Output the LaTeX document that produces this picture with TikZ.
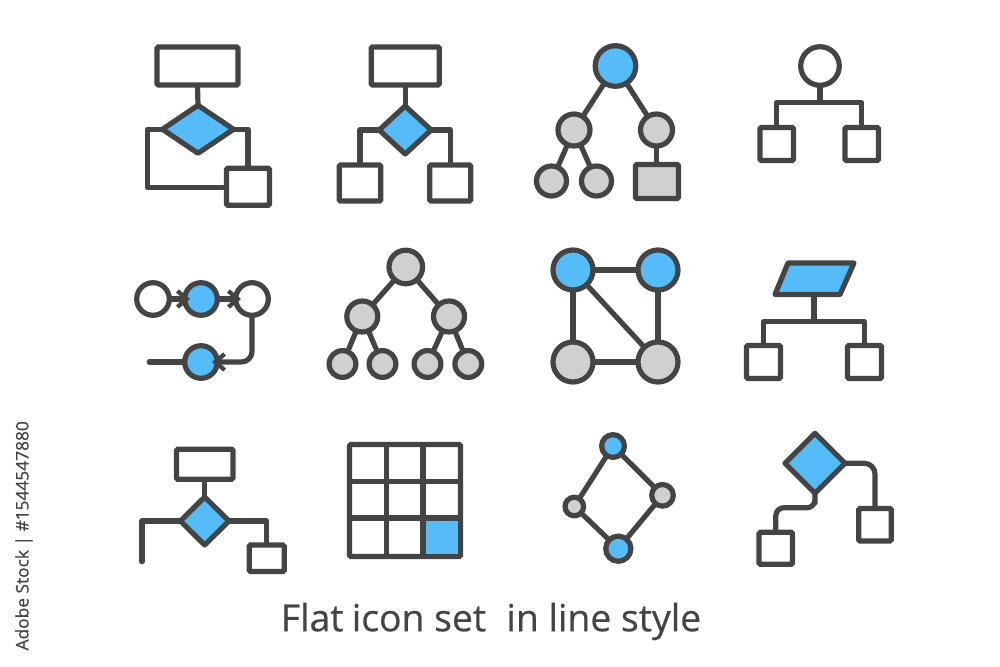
\documentclass[tikz,border=0pt]{standalone}
\usepackage{fontspec}
\setmainfont{Open Sans}
\newfontfamily\titlefont[FakeBold=0.5]{Open Sans}
\newfontfamily\sidefont[FakeBold=0.8]{Open Sans}
\usetikzlibrary{shapes.geometric,arrows.meta}
\definecolor{ink}{HTML}{434545}
\definecolor{sky}{HTML}{56BBF9}
\definecolor{ash}{HTML}{CFD1D0}
\tikzset{
  wire/.style={ink,line width=3.9pt,line join=round},
  rbox/.style 2 args={draw=ink,line width=3.9pt,fill=white,rectangle,rounded corners=1pt,inner sep=0,outer sep=0,minimum width=#1*0.75pt,minimum height=#2*0.75pt},
  dia/.style 2 args={draw=ink,line width=3.9pt,fill=sky,diamond,line join=round,inner sep=0,outer sep=0,minimum width=#1*0.75pt,minimum height=#2*0.75pt},
  dot/.style 2 args={draw=ink,line width=3.9pt,fill=#2,circle,inner sep=0,outer sep=0,minimum size=#1*1.5pt},
  barb/.style={-{Straight Barb[length=7pt,width=12pt,line width=3.2pt]},shorten >=-4pt},
}
\begin{document}
\begin{tikzpicture}[x=0.75pt,y=-0.75pt]
\useasboundingbox (0,0) rectangle (1000,667);
% icon 1
\node[rbox={81}{38}] (a1) at (197.5,66) {};
\node[dia={71}{48}] (a2) at (198,129.3) {};
\node[rbox={43}{37}] (a3) at (248,186.7) {};
\coordinate (a4) at (147.3,187.7);
\draw[wire] (a1.south) -- (a2.north);
\draw[wire] (a2.west) -| (a4) -- (a3.west|-a4);
\draw[wire] (a2.east) -| (a3.north);
% icon 2
\node[rbox={68}{38}] (b1) at (405.2,66) {};
\node[dia={52}{48}] (b2) at (405.2,130) {};
\node[rbox={41.5}{36}] (b3) at (360,183) {};
\node[rbox={41}{36}] (b4) at (450.3,183) {};
\draw[wire] (b1.south) -- (b2.north);
\draw[wire] (b2.west) -| (b3.north);
\draw[wire] (b2.east) -| (b4.north);
% icon 3
\node[dot={20.3}{sky}] (c1) at (615.5,66) {};
\node[dot={16}{ash}] (c2) at (574,130) {};
\node[dot={16}{ash}] (c3) at (656.5,130) {};
\node[dot={15}{ash}] (c4) at (551.5,181) {};
\node[dot={15}{ash}] (c5) at (596.5,181) {};
\node[rbox={43}{34},fill=ash] (c6) at (657,181.5) {};
\draw[wire] (c1) -- (c2);
\draw[wire] (c1) -- (c3);
\draw[wire] (c2) -- (c4);
\draw[wire] (c2) -- (c5);
\draw[wire] (c3) -- (c6.north-|c3);
% icon 4
\node[dot={19.3}{white}] (d1) at (820,66) {};
\node[rbox={33.5}{33}] (d2) at (776.7,144) {};
\node[rbox={33.5}{33}] (d3) at (861.7,144) {};
\coordinate (d4) at (819.5,102.7);
\draw[wire] (d1) -- (d1|-d4);
\draw[wire] (d2.north) |- (d4) -| (d3.north);
% icon 5
\node[dot={16.3}{white}] (e1) at (153,299) {};
\node[dot={16.3}{sky}] (e2) at (201,299) {};
\node[dot={16.3}{white}] (e3) at (252,299) {};
\node[dot={16.3}{sky}] (e4) at (201,362) {};
\coordinate (e5) at (149.3,362);
\draw[wire,line cap=round] (e5) -- (e4.west);
\draw[wire,barb] (e1) -- (e2);
\draw[wire,barb] (e2) -- (e3);
\draw[wire,barb,rounded corners=8pt] (e3.south) |- (e4.east);
% icon 6
\node[dot={16.8}{ash}] (f1) at (405.8,267) {};
\node[dot={15.5}{ash}] (f2) at (362.3,316.5) {};
\node[dot={15.5}{ash}] (f3) at (449,316.5) {};
\node[dot={13.4}{ash}] (f4) at (342.5,364) {};
\node[dot={13.4}{ash}] (f5) at (382.5,364) {};
\node[dot={13.4}{ash}] (f6) at (427.5,364) {};
\node[dot={13.4}{ash}] (f7) at (468.3,364) {};
\draw[wire] (f1) -- (f2);
\draw[wire] (f1) -- (f3);
\draw[wire] (f2) -- (f4);
\draw[wire] (f2) -- (f5);
\draw[wire] (f3) -- (f6);
\draw[wire] (f3) -- (f7);
% icon 7
\node[dot={20}{sky}] (g1) at (573,270) {};
\node[dot={20}{sky}] (g2) at (658,270) {};
\node[dot={20}{ash}] (g3) at (573,362) {};
\node[dot={20}{ash}] (g4) at (658,362) {};
\draw[wire] (g1) -- (g2);
\draw[wire] (g1) -- (g3);
\draw[wire] (g2) -- (g4);
\draw[wire] (g3) -- (g4);
\draw[wire] (g1) -- (g4);
% icon 8
\coordinate (h1) at (788,263);
\coordinate (h2) at (854,263);
\coordinate (h3) at (840,294.5);
\coordinate (h4) at (775,294.5);
\coordinate (h5) at (814,294.5);
\coordinate (h6) at (814,321.7);
\draw[wire,fill=sky] (h1) -- (h2) -- (h3) -- (h4) -- cycle;
\node[rbox={34}{33}] (h7) at (763.5,362) {};
\node[rbox={34}{33}] (h8) at (864.5,362) {};
\draw[wire] (h5) -- (h6);
\draw[wire] (h7.north) |- (h6) -| (h8.north);
% icon 9
\node[rbox={56.5}{30}] (i1) at (204.7,464.2) {};
\node[dia={48.5}{48}] (i2) at (204.7,521) {};
\node[rbox={35}{26.5}] (i3) at (266.7,558.3) {};
\coordinate (i4) at (142,561.7);
\draw[wire] (i1.south) -- (i2.north);
\draw[wire,line cap=round] (i2.west) -| (i4);
\draw[wire] (i2.east) -| (i3.north);
% icon 10
\node[rbox={111}{112}] (j0) at (405,500.5) {};
\coordinate (j1) at (386.7,445);
\coordinate (j2) at (423,445);
\coordinate (j3) at (386.7,556.5);
\coordinate (j4) at (423,556.5);
\coordinate (j5) at (349.5,481.7);
\coordinate (j6) at (460.5,481.7);
\coordinate (j7) at (349.5,518);
\coordinate (j8) at (460.5,518);
\fill[sky] (j4) rectangle (j8);
\draw[wire] (j1) -- (j3);
\draw[wire] (j2) -- (j4);
\draw[wire] (j5) -- (j6);
\draw[wire] (j7) -- (j8);
\draw[wire] (j0.south east) -- (j4);
\draw[wire] (j0.south east) -- (j8);
% icon 11
\node[dot={11.4}{sky}] (k1) at (613,446) {};
\node[dot={9.3}{ash}] (k2) at (574.3,506.5) {};
\node[dot={10.8}{ash}] (k3) at (662.5,495.3) {};
\node[dot={12.6}{sky}] (k4) at (618.3,548.7) {};
\draw[wire] (k1) -- (k2);
\draw[wire] (k1) -- (k3);
\draw[wire] (k2) -- (k4);
\draw[wire] (k3) -- (k4);
% icon 12
\node[dia={60}{60}] (l1) at (815,463.3) {};
\node[rbox={32.5}{32.5}] (l2) at (875,524.7) {};
\node[rbox={33.5}{32}] (l3) at (775.8,548.3) {};
\coordinate (l4) at (815,507.7);
\draw[wire,rounded corners=8pt] (l1.east) -| (l2.north);
\draw[wire,rounded corners=6pt] (l1.south) |- (l4) -| (l3.north);
% text
\node[ink,font=\titlefont\fontsize{28}{30}\selectfont,anchor=center] (t1) at (491,621.5) {Flat\hspace{-1pt} icon set\hspace{8pt} in line style};
\node[ink,font=\sidefont\fontsize{13}{16}\selectfont,rotate=90] (t2) at (24,535.8) {Adobe Stock | \#1544547880};
\end{tikzpicture}
\end{document}
